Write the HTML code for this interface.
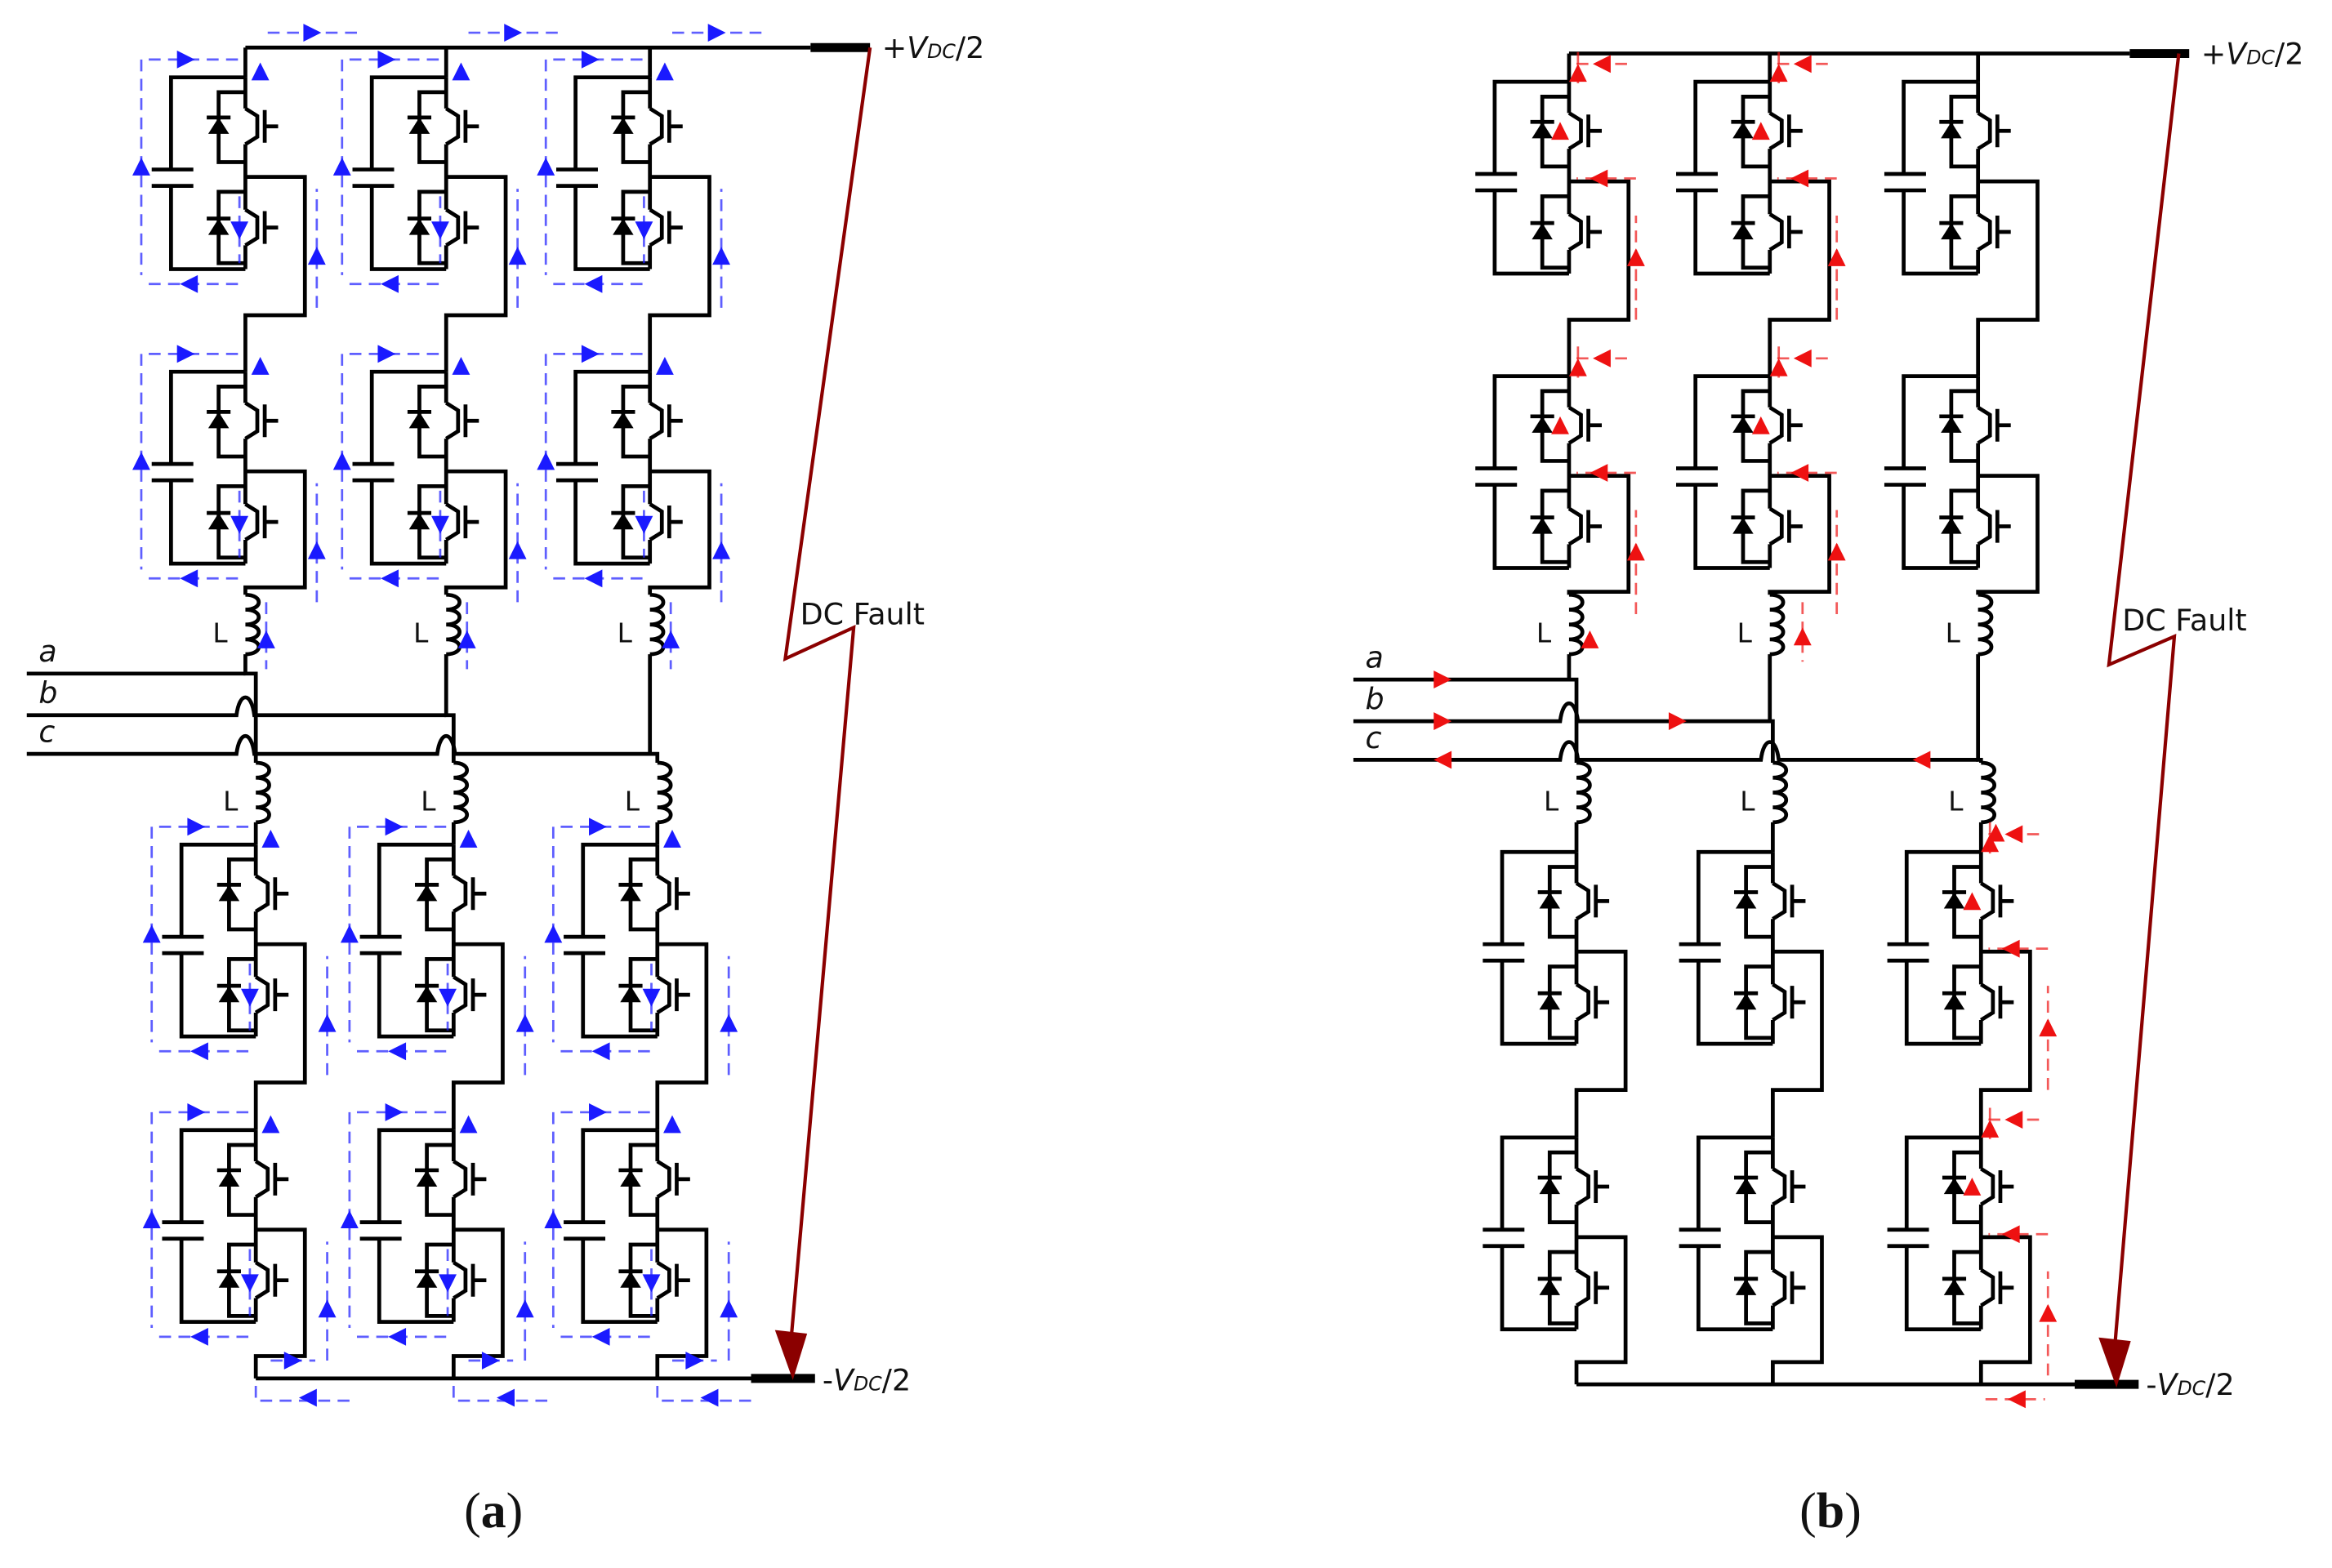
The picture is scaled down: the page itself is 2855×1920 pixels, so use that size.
<!DOCTYPE html>
<html><head><meta charset="utf-8">
<style>html,body{margin:0;padding:0;background:#fff;}svg{display:block}</style></head>
<body>
<svg id="s" xmlns="http://www.w3.org/2000/svg" width="2855" height="1920" viewBox="0 0 1568 1054.5" preserveAspectRatio="none">
<g id="g" fill="none" stroke="#000" stroke-width="2.6" stroke-linejoin="miter"></g>
<g id="ar"></g>
<g font-family="'DejaVu Sans','Liberation Sans',sans-serif" font-size="20" fill="#111">
<text x="593" y="39">+<tspan font-style="italic">V</tspan><tspan font-size="13" font-style="italic">DC</tspan>/2</text>
<text x="553" y="935">-<tspan font-style="italic">V</tspan><tspan font-size="13" font-style="italic">DC</tspan>/2</text>
<text x="538" y="420">DC Fault</text>
<text x="1480" y="43">+<tspan font-style="italic">V</tspan><tspan font-size="13" font-style="italic">DC</tspan>/2</text>
<text x="1443" y="938">-<tspan font-style="italic">V</tspan><tspan font-size="13" font-style="italic">DC</tspan>/2</text>
<text x="1427" y="424">DC Fault</text>
</g>
<g font-family="'DejaVu Sans','Liberation Sans',sans-serif" font-size="18" fill="#111" id="lbl"></g>
<g font-family="'Liberation Serif',serif" font-size="34" fill="#111">
<text x="312" y="1027">(<tspan font-weight="bold">a</tspan>)</text>
<text x="1210" y="1027">(<tspan font-weight="bold">b</tspan>)</text>
</g>
</svg>
<script>
var G=document.getElementById('g'),A=document.getElementById('ar'),L=document.getElementById('lbl');
var NS="http://www.w3.org/2000/svg";
function el(p,tag,at){var e=document.createElementNS(NS,tag);for(var k in at)e.setAttribute(k,at[k]);p.appendChild(e);return e;}
function P(d,extra){var a={d:d};if(extra)for(var k in extra)a[k]=extra[k];return el(G,'path',a);}
function diode(x,c){el(G,'polygon',{points:(x-7)+','+(c+5)+' '+(x+7)+','+(c+5)+' '+x+','+(c-6),fill:'#000',stroke:'none'});P('M'+(x-8)+' '+(c-6)+'H'+(x+8));}
function igbt(S,c){P('M'+S+' '+(c-12)+'L'+(S+8)+' '+(c-7)+'V'+(c+7)+'L'+S+' '+(c+12));P('M'+(S+13)+' '+(c-11)+'V'+(c+11)+'M'+(S+13)+' '+c+'H'+(S+22));}
function mod(S,T){
 P('M'+S+' '+T+'H'+(S-50)+'V'+(T+62)+'M'+(S-50)+' '+(T+73)+'V'+(T+129)+'H'+S);
 P('M'+(S-63)+' '+(T+62)+'H'+(S-35)+'M'+(S-63)+' '+(T+73)+'H'+(S-35));
 P('M'+S+' '+T+'V'+(T+21)+'M'+S+' '+(T+45)+'V'+(T+89)+'M'+S+' '+(T+113)+'V'+(T+129));
 igbt(S,T+33);igbt(S,T+101);
 P('M'+S+' '+(T+10)+'H'+(S-18)+'V'+(T+57)+'H'+S+'M'+S+' '+(T+77)+'H'+(S-18)+'V'+(T+125)+'H'+S);
 diode(S-18,T+33);diode(S-18,T+101);
}
function ind(x,y0){var d='M'+x+' '+y0;for(var i=0;i<4;i++)d+='c12 0 12 10 0 10';P(d);}
function tri(x,y,dir,col){var s=6,p;
 if(dir=='u')p=[x-s,y+s,x+s,y+s,x,y-s];else if(dir=='d')p=[x-s,y-s,x+s,y-s,x,y+s];
 else if(dir=='l')p=[x+s,y-s,x+s,y+s,x-s,y];else p=[x-s,y-s,x-s,y+s,x+s,y];
 el(A,'polygon',{points:p.join(','),fill:col});}
function dash(d,col){el(A,'path',{d:d,fill:'none',stroke:col,'stroke-width':1.5,'stroke-dasharray':'8 5','stroke-opacity':0.7});}
function lab(x,y,t,it){var e=el(L,'text',{x:x,y:y});e.textContent=t;if(it){e.setAttribute('font-style','italic');e.setAttribute('font-size','20');}}

function circuit(ox,cols,topY,botY,Ts,phY,fault,mode){
 var B='#1a1aff',R='#ee1111';
 P('M'+cols[0][0]+' '+topY+'H'+fault[0]);
 el(G,'path',{d:'M'+fault[0]+' '+topY+'H'+(fault[0]+40),'stroke-width':6});
 P('M'+cols[0][1]+' '+botY+'H'+fault[1]);
 el(G,'path',{d:'M'+fault[1]+' '+botY+'H'+(fault[1]+43),'stroke-width':6});
 for(var i=0;i<3;i++){
  var Su=cols[i][0],Sl=cols[i][1];
  P('M'+Su+' '+topY+'V'+Ts[0]);
  mod(Su,Ts[0]);P('M'+Su+' '+(Ts[0]+67)+'H'+(Su+40)+'V'+(Ts[0]+160)+'H'+Su+'V'+Ts[1]);
  mod(Su,Ts[1]);P('M'+Su+' '+(Ts[1]+67)+'H'+(Su+40)+'V'+(Ts[1]+145)+'H'+Su+'V400');
  ind(Su,400);lab(Su-22,432,'L');
  P('M'+Su+' 440V'+phY[i]+'L'+Sl+' '+phY[i]+'V513');
  ind(Sl,513);lab(Sl-22,545,'L');
  P('M'+Sl+' 553V'+Ts[2]);
  mod(Sl,Ts[2]);P('M'+Sl+' '+(Ts[2]+67)+'H'+(Sl+33)+'V'+(Ts[2]+160)+'H'+Sl+'V'+Ts[3]);
  mod(Sl,Ts[3]);P('M'+Sl+' '+(Ts[3]+67)+'H'+(Sl+33)+'V'+(botY-15)+'H'+Sl+'V'+botY);
 }
 var names=['a','b','c'];
 for(var p=0;p<3;p++){
  var y=phY[p],d='M'+(ox)+' '+y;
  for(var j=0;j<p;j++){var x=cols[j][0];d+='H'+(x-6)+'C'+(x-4)+' '+(y-16)+' '+(x+4)+' '+(y-16)+' '+(x+6)+' '+y;}
  d+='H'+cols[p][0];P(d);
  lab(ox+8,y-8,names[p],true);
 }
 var f=fault[2];
 el(G,'polyline',{points:f.join(','),stroke:'#8b0000','stroke-width':2.3,fill:'none'});
 var ex=f[6],ey=f[7];
 el(G,'polygon',{points:(ex-9)+','+(ey-4)+' '+(ex+9)+','+(ey-2)+' '+(ex+1)+','+(ey+24),fill:'#8b0000',stroke:'#8b0000'});
 if(mode=='a'){
  for(var i=0;i<3;i++){for(var m=0;m<4;m++){
   var S=m<2?cols[i][0]:cols[i][1],T=Ts[m];
   dash('M'+(S-5)+' '+(T-12)+'H'+(S-70)+'V'+(T+133),B);tri(S-40,T-12,'r',B);tri(S-70,T+60,'u',B);
   dash('M'+(S-5)+' '+(T+139)+'H'+(S-68),B);tri(S-38,T+139,'l',B);
   tri(S-4,T+103,'d',B);dash('M'+(S-4)+' '+(T+80)+'V'+(T+125),B);
   dash('M'+(S+48)+' '+(T+155)+'V'+(T+75),B);tri(S+48,T+120,'u',B);
   tri(S+10,T-4,'u',B);
  }
   var Su=cols[i][0];dash('M'+(Su+15)+' 22H'+(Su+75),B);tri(Su+45,22,'r',B);
   tri(Su+14,430,'u',B);dash('M'+(Su+14)+' 405V450',B);
   var Sl=cols[i][1];dash('M'+(Sl+10)+' '+(botY-12)+'H'+(Sl+40),B);tri(Sl+25,botY-12,'r',B);
   dash('M'+Sl+' '+(botY+5)+'V'+(botY+15)+'H'+(Sl+65),B);tri(Sl+35,botY+13,'l',B);
  }
 } else {
  var sel=[[0,0],[0,1],[1,0],[1,1],[2,2],[2,3]];
  for(var k=0;k<sel.length;k++){var i=sel[k][0],m=sel[k][1];var S=m<2?cols[i][0]:cols[i][1],T=Ts[m];
   tri(S-6,T+33,'u',R);dash('M'+(S+45)+' '+(T+65)+'H'+(S+5),R);tri(S+20,T+65,'l',R);
   dash('M'+(S+45)+' '+(T+160)+'V'+(T+90),R);tri(S+45,T+118,'u',R);
   tri(S+6,T-6,'u',R);dash('M'+(S+6)+' '+(T-20)+'V'+(T+5),R);
   dash('M'+(S+5)+' '+(T-12)+'H'+(S+40),R);tri(S+22,T-12,'l',R);
  }
  tri(970,phY[0],'r',R);tri(970,phY[1],'r',R);tri(1128,phY[1],'r',R);tri(970,phY[2],'l',R);tri(1292,phY[2],'l',R);
  tri(cols[0][0]+14,430,'u',R);tri(cols[1][0]+22,428,'u',R);dash('M'+(cols[1][0]+22)+' 405V445',R);
  tri(cols[2][1]+10,560,'u',R);tri(1356,botY+10,'l',R);dash('M1335 '+(botY+10)+'H1375',R);
 }
}
circuit(18,[[165,172],[300,305],[437,442]],32,927,[52,250,568,760],[453,481,507],[545,505,[585,32,528,443,574,422,532,900]],'a');
circuit(910,[[1055,1060],[1190,1192],[1330,1332]],36,931,[55,253,573,765],[457,485,511],[1432,1395,[1465,36,1418,447,1462,428,1422,905]],'b');
</script>
</body></html>
